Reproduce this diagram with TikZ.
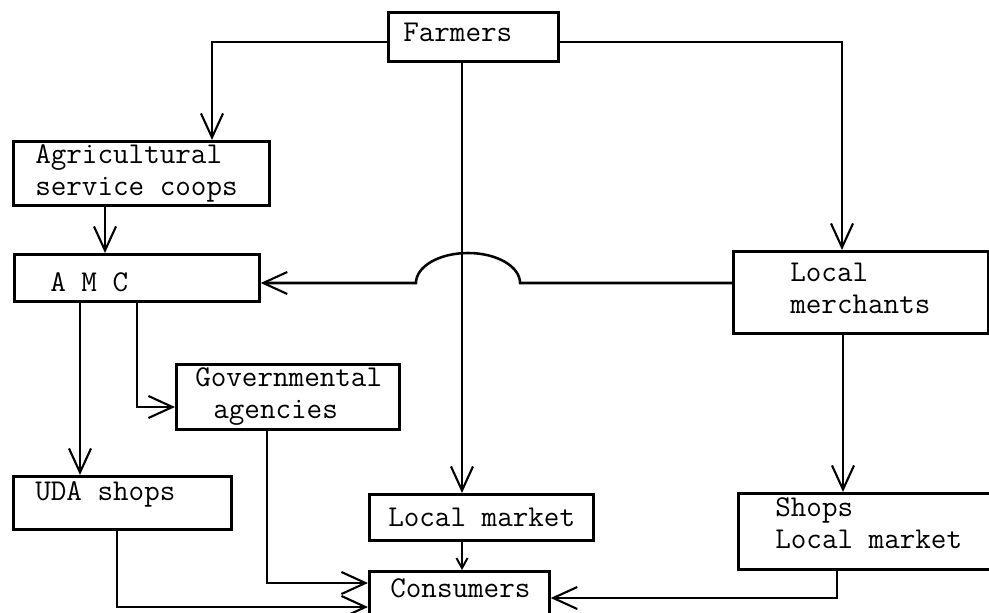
\documentclass[tikz,border=0pt]{standalone}
\usepackage{fontspec}
\usetikzlibrary{arrows.meta,positioning}

\tikzset{
  box/.style={draw, line width=1.9pt, anchor=north west, inner sep=0pt},
  txt/.style={font=\ttfamily\fontsize{21.5}{23}\selectfont, align=left, inner sep=0pt},
  flow/.style={line width=1.8pt, -{Straight Barb[length=0.6cm,width=0.55cm,line width=1.5pt]}},
  short/.style={line width=1.8pt, -{Straight Barb[length=0.25cm,width=0.28cm,line width=1.4pt]}},
}

\begin{document}
\begin{tikzpicture}[x=0.025cm,y=-0.025cm]
\useasboundingbox (0,0) rectangle (989,613);
\clip (0,0) rectangle (989,613);
% boxes
\node [box, minimum width=4.25cm, minimum height=1.225cm, label={[txt,right=0.4cm,yshift=0.1cm]west:Farmers}] (farmers) at (387,11) {};
\node [box, minimum width=6.4cm, minimum height=1.6cm, label={[txt,right=0.575cm]west:Agricultural\\service coops}] (agri) at (12,140) {};
\node [box, minimum width=6.125cm, minimum height=1.175cm, label={[txt,right=0.925cm,yshift=-0.1cm]west:A M C}] (amc) at (13,253) {};
\node [box, minimum width=6.375cm, minimum height=2.05cm, label={[txt,right=1.45cm,yshift=0.1cm]west:Local\\merchants}] (merchants) at (732,250) {};
\node [box, minimum width=5.575cm, minimum height=1.625cm, label={[txt,right=0.5cm]west:Governmental\\\hspace*{0.45cm}agencies}] (gov) at (175,363) {};
\node [box, minimum width=5.45cm, minimum height=1.325cm, label={[txt,right=0.575cm,yshift=0.2cm]west:UDA shops}] (uda) at (12,475) {};
\node [box, minimum width=5.6cm, minimum height=1.15cm, label={[txt,right=0.5cm]west:Local market}] (localmkt) at (368,493) {};
\node [box, minimum width=6.575cm, minimum height=1.9cm, label={[txt,right=0.95cm,yshift=0.2cm]west:Shops\\Local market}] (shops) at (737,492) {};
\node [box, minimum width=4.5cm, minimum height=1.6cm, label={[txt,anchor=north west,xshift=0.55cm,yshift=-0.2cm]north west:Consumers}] (consumers) at (368,570) {};
\coordinate (hop) at (468,283);
% flows
\draw [flow] (farmers.west |- 0,42) -| (agri.north -| 212,0);
\draw [flow] (farmers.east |- 0,42) -| (merchants.north -| 842,0);
\draw [flow] (farmers.south -| 462,0) -- (localmkt.north -| 462,0);
\draw [flow] (agri.south -| 105,0) -- (amc.north -| 105,0);
\draw [flow] (merchants.west |- hop) -- ([xshift=1.3cm]hop) arc [start angle=0, end angle=180, x radius=1.3cm, y radius=0.75cm] -- (amc.east |- hop);
\draw [flow] (amc.south -| 80,0) -- (uda.north -| 80,0);
\draw [flow] (amc.south -| 137,0) |- (gov.west |- 0,407);
\draw [flow] (merchants.south -| 843,0) -- (shops.north -| 843,0);
\draw [short] (localmkt.south -| 462,0) -- (consumers.north -| 462,0);
\draw [flow] (gov.south -| 267,0) |- (consumers.west |- 0,583);
\draw [flow] (uda.south -| 117,0) |- (consumers.west |- 0,607);
\draw [flow] (shops.south -| 837,0) |- (consumers.east |- 0,598);
\end{tikzpicture}
\end{document}
